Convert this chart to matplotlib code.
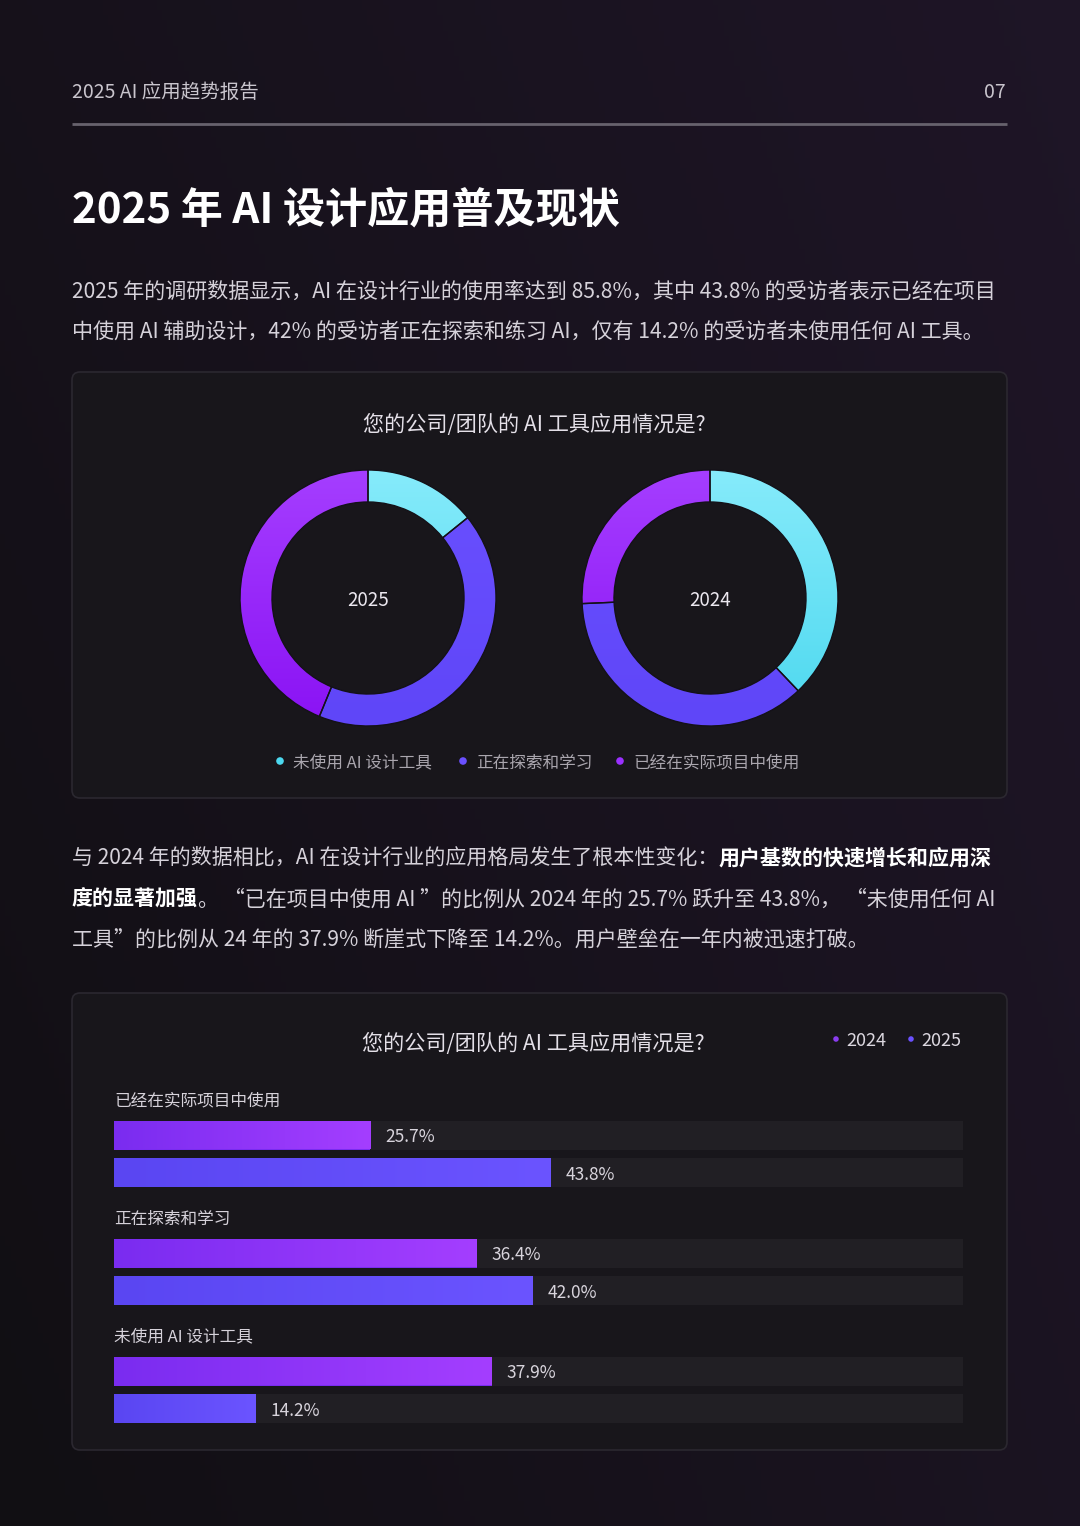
import numpy as np
import matplotlib
matplotlib.use("Agg")
import matplotlib.pyplot as plt
from matplotlib.colors import LinearSegmentedColormap, to_rgb
from matplotlib.patches import FancyBboxPatch

plt.rcParams['font.family'] = ['Noto Sans CJK SC', 'DejaVu Sans']

# ---------------- data ----------------
categories = ['已经在实际项目中使用', '正在探索和学习', '未使用 AI 设计工具']
vals_2024 = [25.7, 36.4, 37.9]
vals_2025 = [43.8, 42.0, 14.2]
series_names = ['2024', '2025']
donut_labels = ['未使用 AI 设计工具', '正在探索和学习', '已经在实际项目中使用']
donut_2025 = [14.2, 42.0, 43.8]
donut_2024 = [37.9, 36.4, 25.7]

header_left = '2025 AI 应用趋势报告'
header_right = '07'
title = '2025 年 AI 设计应用普及现状'
para1 = ['2025 年的调研数据显示，AI 在设计行业的使用率达到 85.8%，其中 43.8% 的受访者表示已经在项目',
         '中使用 AI 辅助设计，42% 的受访者正在探索和练习 AI，仅有 14.2% 的受访者未使用任何 AI 工具。']
para2 = [[('与 2024 年的数据相比，AI 在设计行业的应用格局发生了根本性变化：', False), ('用户基数的快速增长和应用深', True)],
         [('度的显著加强', True), ('。 “已在项目中使用 AI ”的比例从 2024 年的 25.7% 跃升至 43.8%， “未使用任何 AI', False)],
         [('工具”的比例从 24 年的 37.9% 断崖式下降至 14.2%。用户壁垒在一年内被迅速打破。', False)]]
chart_title = '您的公司/团队的 AI 工具应用情况是?'

# ---------------- style ----------------
W, H = 1080, 1526
CARD_FC = '#18161b'
CARD_EC = '#2b2830'
TRACK = '#211f24'
TXT = '#d6d2da'
CYAN = ('#4cd8ef', '#86ebfb')
BLUE = ('#5f46f8', '#6a50ff')
PURP_D = ('#8a12f4', '#a53eff')
PURP_BAR = ('#7a2cf0', '#a43eff')
BLUE_BAR = ('#5a46f2', '#6b54ff')
DY = 3  # vertical nudge for centred text

fig = plt.figure(figsize=(W / 100, H / 100), dpi=100)


def rect(x, y_top, w, h):
    return [x / W, 1 - (y_top + h) / H, w / W, h / H]


bg = fig.add_axes([0, 0, 1, 1])
bg.set_xlim(0, W)
bg.set_ylim(H, 0)
bg.axis('off')

# background gradient
xs = np.linspace(0, 1, 200)
ys = np.linspace(0, 1, 300)
X, Y = np.meshgrid(xs, ys)
t = np.clip(0.55 * X + 0.35 * (1 - Y) + 0.1 * X * Y, 0, 1)
c0 = np.array(to_rgb('#110f13'))
c1 = np.array(to_rgb('#201629'))
img = c0[None, None, :] * (1 - t[..., None]) + c1[None, None, :] * t[..., None]
bg.imshow(img, extent=[0, W, H, 0], aspect='auto', zorder=0)
bg.set_xlim(0, W)
bg.set_ylim(H, 0)

# header
bg.text(72, 89 + DY, header_left, fontsize=14, color='#c9c5cd', va='center', ha='left')
bg.text(1006, 89 + DY, header_right, fontsize=14, color='#c9c5cd', va='center', ha='right')
bg.plot([72, 1007], [124, 124], color='#67626d', lw=2, solid_capstyle='butt')

# title
bg.text(72, 208 + DY, title, fontsize=30.3, fontweight='bold', color='white', va='center', ha='left')

# paragraph 1
for i, line in enumerate(para1):
    bg.text(72, 289 + DY + i * 41, line, fontsize=15.15, color=TXT, va='center', ha='left')

renderer = fig.canvas.get_renderer()

# paragraph 2 with mixed weights
for i, runs in enumerate(para2):
    x = 72
    for txt, bold in runs:
        tt = bg.text(x, 855 + DY + i * 41.5, txt, fontsize=15.1, color='white' if bold else TXT,
                     fontweight='bold' if bold else 'normal', va='center', ha='left')
        bb = tt.get_window_extent(renderer)
        x += bb.width

# cards
for (yt, hh) in [(372, 426), (993, 457)]:
    bg.add_patch(FancyBboxPatch((72, yt), 935, hh, boxstyle='round,pad=0,rounding_size=8',
                                fc=CARD_FC, ec=CARD_EC, lw=1.2, zorder=1))

# card 1 title
bg.text(534, 422 + DY, chart_title, fontsize=15.2, color='#e4e0e8', va='center', ha='center', zorder=2)

# donut legend
leg_cols = [CYAN[0], BLUE[1], '#9a30ff']
leg_x = [280, 463, 620]
for lx, lc, lab in zip(leg_x, leg_cols, donut_labels):
    bg.scatter([lx], [761], s=30, color=lc, zorder=3, edgecolors='none')
    bg.text(lx + 13, 761 + 2, lab, fontsize=12, color='#aaa6ae', va='center', ha='left', zorder=3)


def grad_cmap(c_a, c_b):
    return LinearSegmentedColormap.from_list('g', [c_a, c_b])


def donut(cx, cy, vals, label):
    R = 128
    half = 140
    ax = fig.add_axes(rect(cx - half, cy - half, 2 * half, 2 * half))
    lim = half / R
    wedges, _ = ax.pie(vals, startangle=90, counterclock=False, radius=1,
                       wedgeprops=dict(width=0.25, edgecolor='#141118', linewidth=1.0))
    grads = [CYAN, BLUE, PURP_D]
    vgrad = np.linspace(0, 1, 256).reshape(-1, 1)
    for w, g in zip(wedges, grads):
        im = ax.imshow(vgrad, extent=[-1, 1, -1, 1], origin='lower', cmap=grad_cmap(g[0], g[1]),
                       aspect='auto', zorder=1)
        im.set_clip_path(w)
        w.set_facecolor('none')
        w.set_zorder(3)
    ax.set_xlim(-lim, lim)
    ax.set_ylim(-lim, lim)
    ax.set_aspect('equal')
    ax.axis('off')
    ax.text(0, -0.02, label, fontsize=13.5, color='#ece8f0', ha='center', va='center')


donut(368, 598, donut_2025, '2025')
donut(710, 598, donut_2024, '2024')

# card 2 title & legend
bg.text(533, 1041 + DY, chart_title, fontsize=15.2, color='#e4e0e8', va='center', ha='center', zorder=2)
for lx, lc, lab in zip([836, 911], ['#8a3cf0', '#6a50ff'], series_names):
    bg.scatter([lx], [1039], s=16, color=lc, zorder=3, edgecolors='none')
    bg.text(lx + 10, 1039 + 2, lab, fontsize=13, color='#dcd8e0', va='center', ha='left', zorder=3)

# bar chart
bx = fig.add_axes(rect(114, 1070, 849, 370))
bx.set_facecolor('none')
XMAX = 85.2
bx.set_xlim(0, XMAX)
bx.set_ylim(1440, 1070)
bx.axis('off')

y_first = 1135
group_gap = 118
sub_gap = 37.5
bar_h = 29
hcmap = np.linspace(0, 1, 256).reshape(1, -1)
for gi, cat in enumerate(categories):
    y0 = y_first + gi * group_gap
    bx.text(0, y0 - 34, cat, fontsize=12, color='#d6d2da', va='center', ha='left')
    for si, (vals, g) in enumerate([(vals_2024, PURP_BAR), (vals_2025, BLUE_BAR)]):
        y = y0 + si * sub_gap
        v = vals[gi]
        bx.barh([y], [XMAX], height=bar_h, color=TRACK, zorder=1)
        bars = bx.barh([y], [v], height=bar_h, color=g[0], zorder=2)
        r = bars.patches[0]
        im = bx.imshow(hcmap, extent=[0, v, y + bar_h / 2, y - bar_h / 2], aspect='auto',
                       cmap=grad_cmap(g[0], g[1]), zorder=3)
        im.set_clip_path(r)
        bx.text(v + 1.5, y + 2, f'{v:.1f}%', fontsize=12.5, color='#d8d4dc', va='center', ha='left', zorder=4)

bx.set_xlim(0, XMAX)
bx.set_ylim(1440, 1070)

fig.savefig('out.png', dpi=100, facecolor='#141116')
